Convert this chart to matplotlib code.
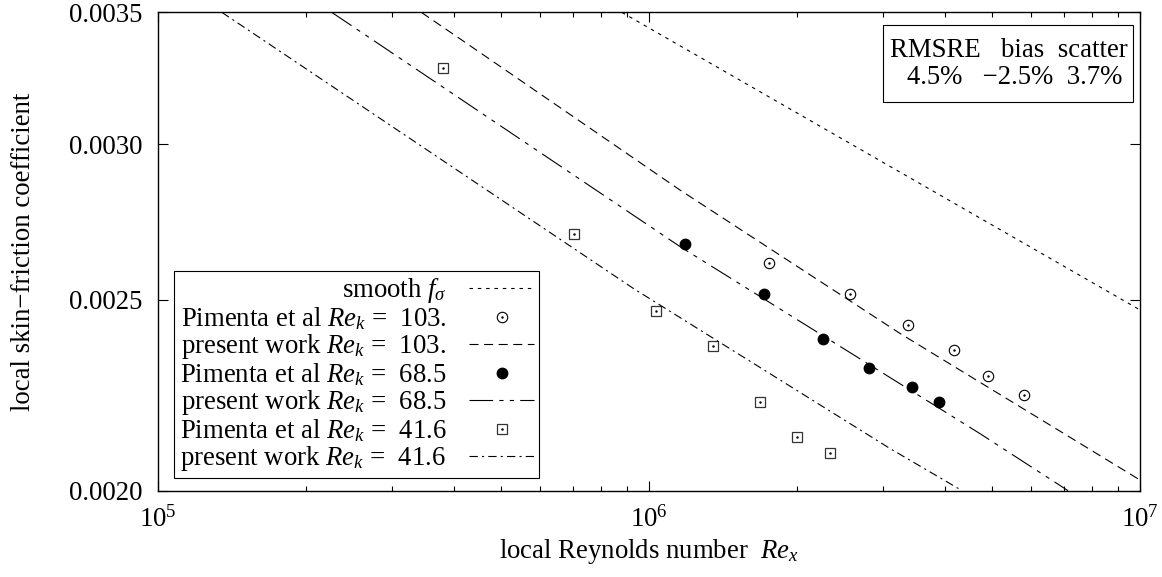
import matplotlib
matplotlib.use("Agg")
import matplotlib.pyplot as plt
from matplotlib.patches import Rectangle
from matplotlib.legend_handler import HandlerTuple
from matplotlib.ticker import FixedLocator, NullLocator, FormatStrFormatter, LogLocator, LogFormatterMathtext

plt.rcParams['font.family'] = ['Liberation Serif', 'DejaVu Serif']
plt.rcParams['mathtext.fontset'] = 'custom'
plt.rcParams['mathtext.rm'] = 'Liberation Serif'
plt.rcParams['mathtext.it'] = 'Liberation Serif:italic'
plt.rcParams['lines.scale_dashes'] = False

# --- measured skin friction (Pimenta et al) ---
re_103 = [1.755e6, 2.564e6, 3.374e6, 4.175e6, 4.902e6, 5.813e6]
cf_103 = [0.002611, 0.002518, 0.002429, 0.002359, 0.002288, 0.002238]
re_685 = [1.182e6, 1.712e6, 2.262e6, 2.803e6, 3.438e6, 3.890e6]
cf_685 = [0.002670, 0.002518, 0.002388, 0.002309, 0.002259, 0.002219]
re_416 = [3.811e5, 7.019e5, 1.032e6, 1.352e6, 1.685e6, 2.005e6, 2.336e6]
cf_416 = [0.003280, 0.002700, 0.002469, 0.002369, 0.002219, 0.002129, 0.002090]

# --- model curves ---
re_smooth = [8.81e5, 1.0e7]
cf_smooth = [0.0035, 0.002471]
re_fit_103 = [3.44e5, 4.155e5, 1.157e6, 3.245e6, 1.0e7]
cf_fit_103 = [0.0035, 0.003389, 0.002843, 0.002404, 0.002025]
re_fit_685 = [2.26e5, 2.832e5, 1.157e6, 4.722e6, 7.135e6]
cf_fit_685 = [0.0035, 0.003370, 0.002661, 0.002138, 0.0020]
re_fit_416 = [1.35e5, 2.832e5, 9.291e5, 3.097e6, 4.341e6]
cf_fit_416 = [0.0035, 0.003092, 0.002534, 0.002101, 0.0020]

stats_head = "RMSRE   bias  scatter"
stats_vals = "4.5%   \u22122.5%  3.7%"

FS = 19.3
fig = plt.figure(figsize=(11.62, 5.77), dpi=100)
ax = fig.add_axes([0.1360, 0.1496, 0.8451, 0.8288])
ax.set_xscale('log')
ax.set_yscale('log')

lw = 0.8
h_smooth, = ax.plot(re_smooth, cf_smooth, color='black', lw=lw, dashes=(2.5, 3.5))
h_o1, = ax.plot(re_103, cf_103, ls='none', marker='o', ms=7.5, mfc='none', mec='black', mew=0.8)
h_o2, = ax.plot(re_103, cf_103, ls='none', marker='.', ms=1.5, color='black')
h_f103, = ax.plot(re_fit_103, cf_fit_103, color='black', lw=lw, dashes=(6.5, 4))
h_f, = ax.plot(re_685, cf_685, ls='none', marker='o', ms=7.5, color='black')
h_f685, = ax.plot(re_fit_685, cf_fit_685, color='black', lw=lw, dashes=(17, 4.5, 3, 4.5, 3, 4.5))
h_s1, = ax.plot(re_416, cf_416, ls='none', marker='s', ms=7.5, mfc='none', mec='#333333', mew=0.9)
h_s2, = ax.plot(re_416, cf_416, ls='none', marker='.', ms=1.5, color='black')
h_f416, = ax.plot(re_fit_416, cf_fit_416, color='black', lw=lw, dashes=(6, 3, 1.5, 3))

ax.set_xlim(1e5, 1e7)
ax.set_ylim(0.0020, 0.0035)
ax.yaxis.set_major_locator(FixedLocator([0.0020, 0.0025, 0.0030, 0.0035]))
ax.yaxis.set_major_formatter(FormatStrFormatter('%.4f'))
ax.yaxis.set_minor_locator(NullLocator())
ax.xaxis.set_major_locator(LogLocator(base=10))
ax.xaxis.set_major_formatter(LogFormatterMathtext())
ax.xaxis.set_minor_locator(LogLocator(base=10, subs=range(2, 10)))
ax.tick_params(which='both', direction='in', top=True, right=True, labelsize=FS, width=0.8)
ax.tick_params(which='major', length=7)
ax.tick_params(which='minor', length=3.5)
ax.tick_params(axis='x', which='major', pad=11)
ax.tick_params(axis='y', which='major', pad=11)
for s in ax.spines.values():
    s.set_linewidth(1.0)

ax.set_xlabel(r"local Reynolds number  $Re_x$", fontsize=FS, labelpad=3)
ax.set_ylabel("local skin\u2212friction coefficient", fontsize=FS, labelpad=24)

handles = [h_smooth, (h_o1, h_o2), h_f103, h_f, h_f685, (h_s1, h_s2), h_f416]
labels = [r"smooth $f_{\sigma}$",
          r"Pimenta et al $Re_k$ =  103.",
          r"present work $Re_k$ =  103.",
          r"Pimenta et al $Re_k$ =  68.5",
          r"present work $Re_k$ =  68.5",
          r"Pimenta et al $Re_k$ =  41.6",
          r"present work $Re_k$ =  41.6"]
leg = ax.legend(handles, labels, loc='lower left', bbox_to_anchor=(0.0166, 0.0259),
                borderaxespad=0, markerfirst=False, fontsize=FS, frameon=True,
                fancybox=False, framealpha=1, edgecolor='black',
                handlelength=2.4, handletextpad=0.86, labelspacing=0.0,
                borderpad=0.2, handler_map={tuple: HandlerTuple(ndivide=1)})
leg.get_frame().set_linewidth(0.8)

# statistics box in the upper right corner
ax.add_patch(Rectangle((0.7386, 0.8135), 0.9929 - 0.7386, 0.9739 - 0.8135,
                       transform=ax.transAxes, fill=False, ec='black', lw=0.8, zorder=5))
ax.text(0.9878, 0.9076, stats_head, transform=ax.transAxes, ha='right', va='baseline', fontsize=FS)
ax.text(0.9817, 0.8505, stats_vals, transform=ax.transAxes, ha='right', va='baseline', fontsize=FS)

fig.savefig("out.png", dpi=100)
